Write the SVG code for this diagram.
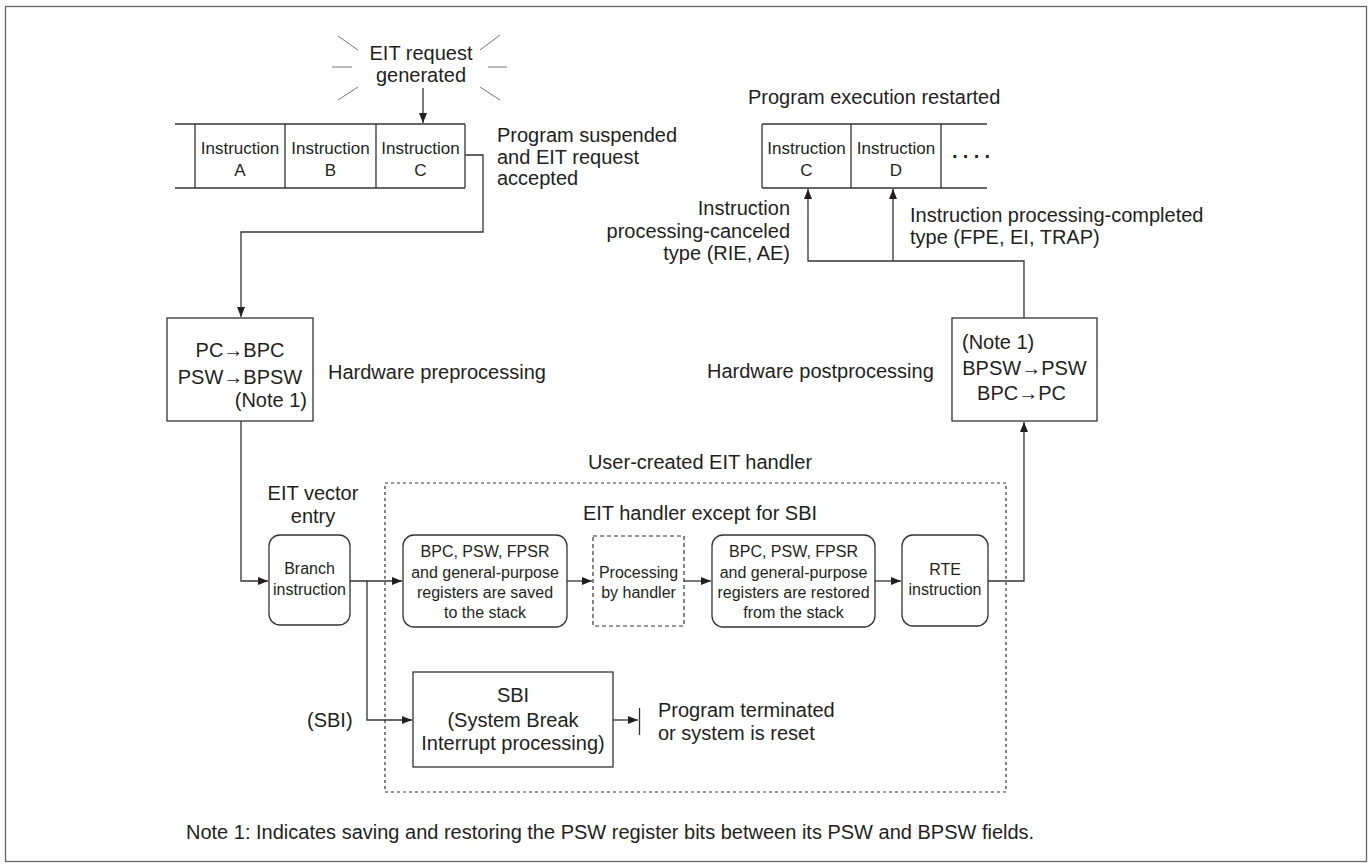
<svg xmlns="http://www.w3.org/2000/svg" width="1372" height="868" viewBox="0 0 1372 868">
<style>
text{font-family:"Liberation Sans",Arial,sans-serif;fill:#231f20;font-size:20px}
.s{font-size:16px}
.i{font-size:17px}
.m{text-anchor:middle}
.e{text-anchor:end}
.box{fill:#fff;stroke:#333;stroke-width:1.3}
.dash{fill:none;stroke:#333;stroke-width:1.2;stroke-dasharray:3 3}
.ln{fill:none;stroke:#333;stroke-width:1.3}
.spark{stroke:#777;stroke-width:1}
</style>
<defs>
<marker id="ah" markerWidth="10" markerHeight="10" refX="10" refY="5" orient="auto" markerUnits="userSpaceOnUse"><path d="M0,1 L10,5 L0,9 z" fill="#231f20"/></marker>
</defs>
<rect x="5.5" y="6.5" width="1361" height="855" fill="#fff" stroke="#666" stroke-width="1.3"/>

<g id="eit-request">
<line class="spark" x1="338" y1="36" x2="358" y2="50"/>
<line class="spark" x1="332" y1="67" x2="352" y2="67"/>
<line class="spark" x1="338" y1="100" x2="358" y2="87"/>
<line class="spark" x1="480" y1="50" x2="500" y2="35"/>
<line class="spark" x1="488" y1="67" x2="507" y2="67"/>
<line class="spark" x1="480" y1="87" x2="500" y2="100"/>
<text class="m" x="421" y="60">EIT request</text>
<text class="m" x="421" y="82">generated</text>
</g>

<g id="program-before">
<path class="ln" d="M175,124 H465 M175,188 H465 M195,124 V188 M285,124 V188 M376,124 V188 M465,124 V188"/>
<text class="i m" x="240" y="154">Instruction</text><text class="i m" x="240" y="176">A</text>
<text class="i m" x="330.5" y="154">Instruction</text><text class="i m" x="330.5" y="176">B</text>
<text class="i m" x="420.5" y="154">Instruction</text><text class="i m" x="420.5" y="176">C</text>
</g>
<g id="suspended-label">
<text x="497" y="142">Program suspended</text>
<text x="497" y="164">and EIT request</text>
<text x="497" y="185">accepted</text>
</g>

<g id="program-after">
<text x="748" y="104">Program execution restarted</text>
<path class="ln" d="M762,124 H987 M762,188 H987 M762,124 V188 M851,124 V188 M941,124 V188"/>
<text class="i m" x="806.5" y="154">Instruction</text><text class="i m" x="806.5" y="176">C</text>
<text class="i m" x="896" y="154">Instruction</text><text class="i m" x="896" y="176">D</text>
<text x="952" y="163" font-weight="bold" letter-spacing="4.2">····</text>
</g>
<g id="canceled-label">
<text class="e" x="790" y="215">Instruction</text>
<text class="e" x="790" y="238">processing-canceled</text>
<text class="e" x="790" y="260">type (RIE, AE)</text>
</g>
<g id="completed-label">
<text x="910" y="222">Instruction processing-completed</text>
<text x="910" y="244">type (FPE, EI, TRAP)</text>
</g>

<g id="preprocessing">
<rect class="box" x="167" y="318" width="146" height="103"/>
<text class="m" x="240" y="357">PC→BPC</text>
<text class="m" x="240" y="384">PSW→BPSW</text>
<text class="e" x="307" y="407">(Note 1)</text>
<text x="328" y="379">Hardware preprocessing</text>
</g>

<g id="postprocessing">
<rect class="box" x="952" y="318" width="145" height="103"/>
<text x="962" y="349">(Note 1)</text>
<text class="m" x="1024.5" y="375">BPSW→PSW</text>
<text class="m" x="1021.5" y="400">BPC→PC</text>
<text x="707" y="378">Hardware postprocessing</text>
</g>

<g id="user-handler">
<rect class="dash" x="385" y="483" width="621" height="309"/>
<text class="m" x="700" y="469">User-created EIT handler</text>
<text class="m" x="700" y="520">EIT handler except for SBI</text>
</g>

<g id="vector-entry">
<text class="m" x="313" y="500">EIT vector</text>
<text class="m" x="313" y="523">entry</text>
<rect class="box" x="269" y="535" width="81" height="90" rx="11"/>
<text class="s m" x="309.5" y="574">Branch</text>
<text class="s m" x="309.5" y="595">instruction</text>
</g>

<g id="save-regs">
<rect class="box" x="403" y="535" width="164" height="92" rx="11"/>
<text class="s m" x="485" y="557">BPC, PSW, FPSR</text>
<text class="s m" x="485" y="578">and general-purpose</text>
<text class="s m" x="485" y="598">registers are saved</text>
<text class="s m" x="485" y="618">to the stack</text>
</g>

<g id="processing">
<rect x="593" y="536" width="91" height="90" fill="#fff" stroke="#333" stroke-width="1.2" stroke-dasharray="4 3"/>
<text class="s m" x="638.5" y="578">Processing</text>
<text class="s m" x="638.5" y="598">by handler</text>
</g>

<g id="restore-regs">
<rect class="box" x="712" y="535" width="163" height="92" rx="11"/>
<text class="s m" x="793.5" y="557">BPC, PSW, FPSR</text>
<text class="s m" x="793.5" y="578">and general-purpose</text>
<text class="s m" x="793.5" y="598">registers are restored</text>
<text class="s m" x="793.5" y="618">from the stack</text>
</g>

<g id="rte">
<rect class="box" x="902" y="535" width="86" height="91" rx="11"/>
<text class="s m" x="945" y="575">RTE</text>
<text class="s m" x="945" y="595">instruction</text>
</g>

<g id="sbi">
<text x="307" y="727">(SBI)</text>
<rect class="box" x="413" y="672" width="200" height="95"/>
<text class="m" x="513" y="702">SBI</text>
<text class="m" x="513" y="727">(System Break</text>
<text class="m" x="513" y="750">Interrupt processing)</text>
</g>
<g id="terminated">
<text x="658" y="717">Program terminated</text>
<text x="658" y="740">or system is reset</text>
</g>

<g id="connectors">
<path class="ln" d="M423,88 V123" marker-end="url(#ah)"/>
<path class="ln" d="M465,155 H483 V232 H241 V317" marker-end="url(#ah)"/>
<path class="ln" d="M241,421 V581 H268" marker-end="url(#ah)"/>
<path class="ln" d="M350,581 H402" marker-end="url(#ah)"/>
<path class="ln" d="M367,581 V720 H412" marker-end="url(#ah)"/>
<path class="ln" d="M567,581 H592" marker-end="url(#ah)"/>
<path class="ln" d="M684,581 H711" marker-end="url(#ah)"/>
<path class="ln" d="M875,581 H901" marker-end="url(#ah)"/>
<path class="ln" d="M988,581 H1024 V422" marker-end="url(#ah)"/>
<path class="ln" d="M1024,318 V261 H808 V189" marker-end="url(#ah)"/>
<path class="ln" d="M893,261 V189" marker-end="url(#ah)"/>
<path class="ln" d="M613,720 H638" marker-end="url(#ah)"/>
<path class="ln" d="M639.5,708 V735"/>
</g>

<g id="note">
<text x="186" y="839">Note 1: Indicates saving and restoring the PSW register bits between its PSW and BPSW fields.</text>
</g>
</svg>
